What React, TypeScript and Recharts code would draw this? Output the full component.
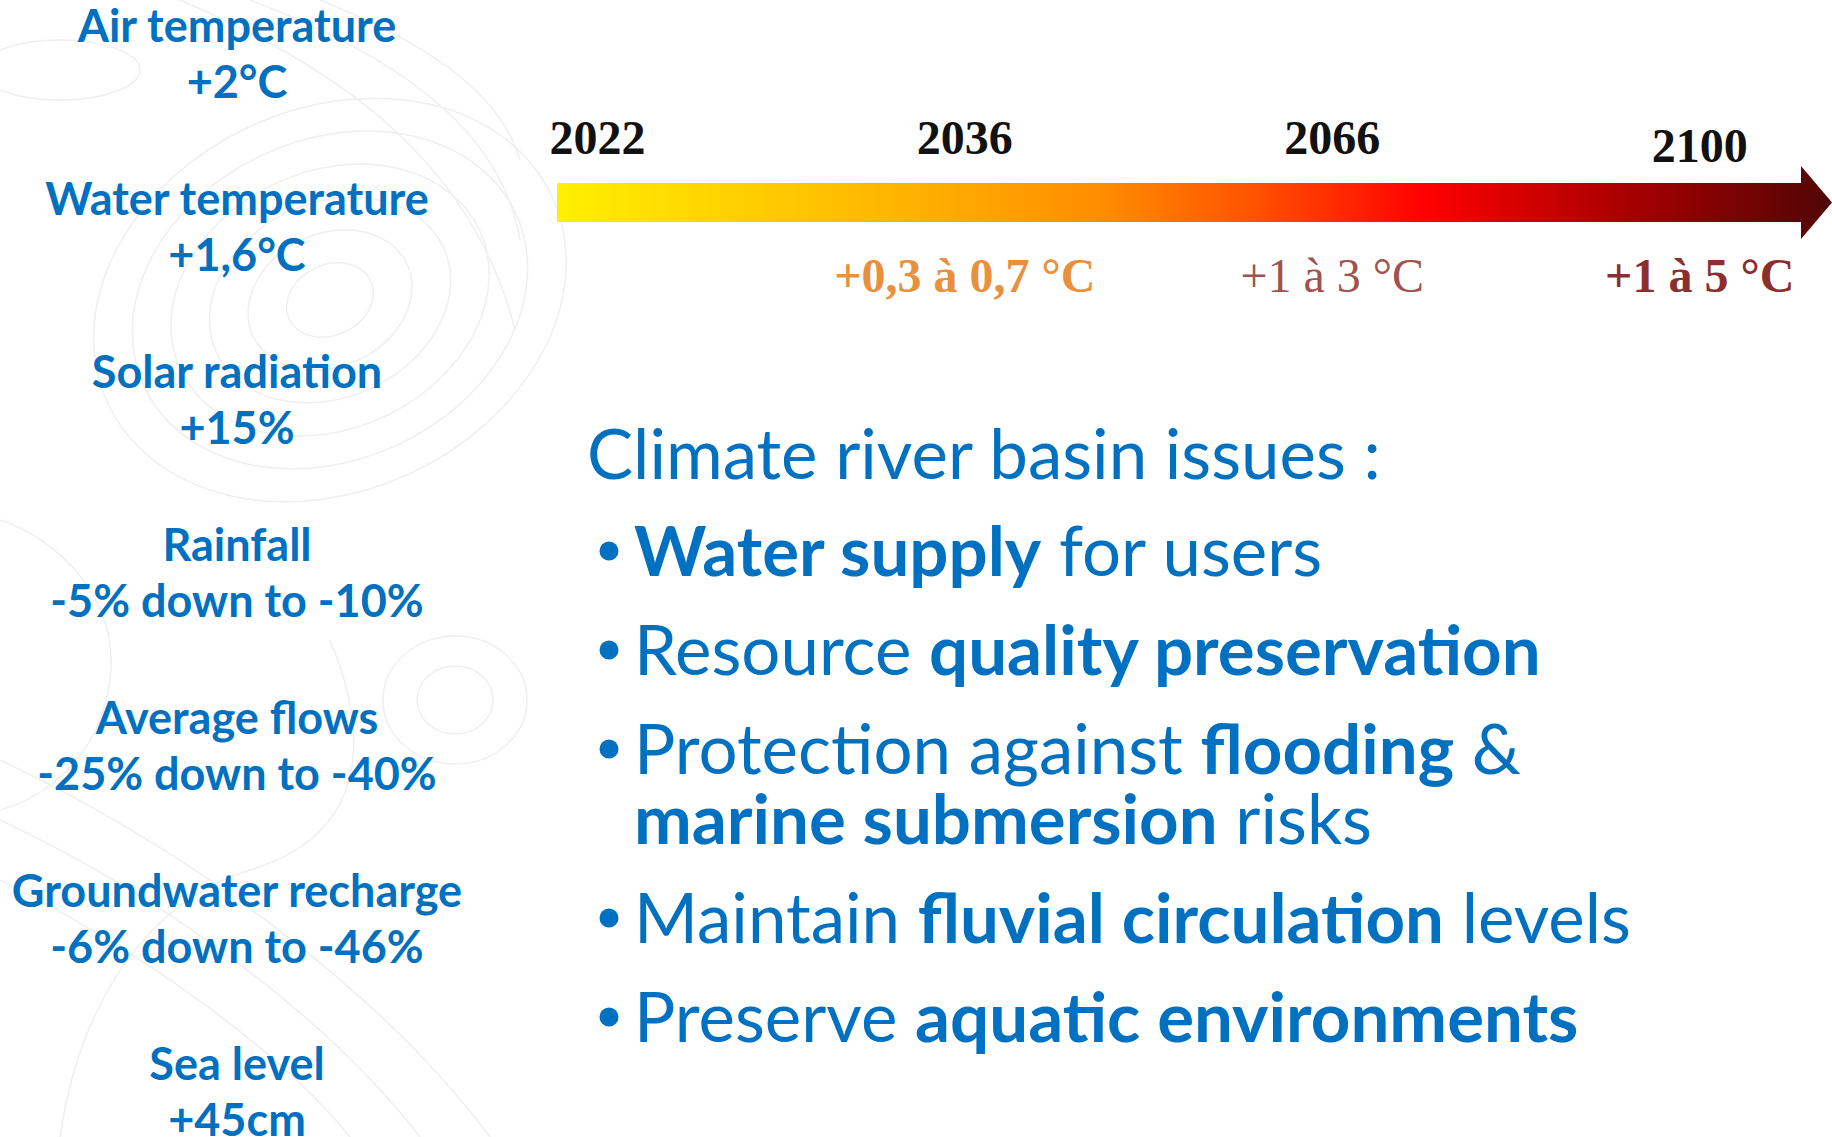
import React from "react";
import { ComposedChart, XAxis, YAxis, ReferenceArea } from "recharts";

// timeline milestones
const years = [2022, 2036, 2066, 2100];
const warming = ["", "+0,3 à 0,7 °C", "+1 à 3 °C", "+1 à 5 °C"];

// projected changes, left column
const indicatorNames = [
  "Air temperature",
  "Water temperature",
  "Solar radiation",
  "Rainfall",
  "Average flows",
  "Groundwater recharge",
  "Sea level",
];
const indicatorChanges = [
  "+2°C",
  "+1,6°C",
  "+15%",
  "-5% down to -10%",
  "-25% down to -40%",
  "-6% down to -46%",
  "+45cm",
];

// bullet list, [text, bold] segments per line
const issuesTitle = "Climate river basin issues :";
const issues: [string, boolean][][][] = [
  [[["Water supply", true], [" for users", false]]],
  [[["Resource ", false], ["quality preservation", true]]],
  [
    [["Protection against ", false], ["flooding", true], [" &", false]],
    [["marine submersion", true], [" risks", false]],
  ],
  [[["Maintain ", false], ["fluvial circulation", true], [" levels", false]]],
  [[["Preserve ", false], ["aquatic environments", true]]],
];

const BLUE = "#0070C0";
const SANS = "Lato, 'Open Sans', sans-serif";
const SERIF = "'Liberation Serif', 'Times New Roman', serif";
const warmingColors = ["#E8903C", "#E8903C", "#A0524F", "#8B2E2E"];
const warmingWeights = [700, 700, 400, 700];
const yearShift = [0, 0, 0, 8];

const timeline = years.map((year, i) => ({ step: i, year, warming: warming[i] }));
const indicators = indicatorNames.map((name, i) => ({ name, change: indicatorChanges[i] }));

function IndicatorTick(props: any) {
  const { x, y, index } = props;
  return (
    <g>
      <text x={x} y={y - 12} textAnchor="middle" fontFamily={SANS} fontWeight={700} fontSize={45} fill={BLUE}>
        {indicatorNames[index]}
      </text>
      <text x={x} y={y + 44} textAnchor="middle" fontFamily={SANS} fontWeight={700} fontSize={45} fill={BLUE}>
        {indicatorChanges[index]}
      </text>
    </g>
  );
}

function YearTick(props: any) {
  const { x, y, index } = props;
  return (
    <text x={x} y={y + yearShift[index]} textAnchor="middle" fontFamily={SERIF} fontWeight={700} fontSize={48} fill="#111">
      {String(years[index])}
    </text>
  );
}

function WarmingTick(props: any) {
  const { x, y, index } = props;
  return (
    <text
      x={x}
      y={y}
      textAnchor="middle"
      fontFamily={SERIF}
      fontWeight={warmingWeights[index]}
      fontSize={48}
      fill={warmingColors[index]}
    >
      {warming[index]}
    </text>
  );
}

function HeatArrow(props: any) {
  const { x, y, width, height } = props;
  const head = 31;
  const flare = 17;
  const xe = x + width;
  const xb = xe - head;
  const ym = y + height / 2;
  const d = `M${x},${y} L${xb},${y} L${xb},${y - flare} L${xe},${ym} L${xb},${y + height + flare} L${xb},${y + height} L${x},${y + height} Z`;
  return (
    <g>
      <defs>
        <linearGradient id="heat" x1="0" y1="0" x2="1" y2="0">
          <stop offset="0" stopColor="#FFF000" />
          <stop offset="0.27" stopColor="#FFB400" />
          <stop offset="0.43" stopColor="#FF8C00" />
          <stop offset="0.55" stopColor="#FF5000" />
          <stop offset="0.68" stopColor="#FF0000" />
          <stop offset="0.84" stopColor="#A80000" />
          <stop offset="1" stopColor="#500505" />
        </linearGradient>
      </defs>
      <path d={d} fill="url(#heat)" />
    </g>
  );
}

function TimelineChart() {
  const domain: [number, number] = [-0.11, 3.36];
  return (
    <ComposedChart width={1832} height={330} data={timeline} margin={{ top: 153, right: 0, bottom: 78, left: 557 }}>
      <XAxis
        xAxisId="year"
        orientation="top"
        type="number"
        dataKey="step"
        domain={domain}
        allowDataOverflow
        ticks={timeline.map((d) => d.step)}
        interval={0}
        height={30}
        tickSize={0}
        tickMargin={29}
        axisLine={false}
        tick={(p: any) => <YearTick {...p} />}
      />
      <XAxis
        xAxisId="warming"
        orientation="bottom"
        type="number"
        dataKey="step"
        domain={domain}
        allowDataOverflow
        ticks={timeline.map((d) => d.step)}
        interval={0}
        height={30}
        tickSize={0}
        tickMargin={70}
        axisLine={false}
        tick={(p: any) => <WarmingTick {...p} />}
      />
      <YAxis yAxisId="band" type="number" domain={[0, 1]} allowDataOverflow hide />
      <ReferenceArea
        xAxisId="year"
        yAxisId="band"
        x1={domain[0]}
        x2={domain[1]}
        y1={0}
        y2={1}
        ifOverflow="visible"
        shape={(p: any) => <HeatArrow {...p} />}
      />
    </ComposedChart>
  );
}

function IndicatorChart() {
  return (
    <ComposedChart layout="vertical" width={520} height={1137} data={indicators} margin={{ top: 54, right: 0, bottom: 45, left: 0 }}>
      <XAxis type="number" hide />
      <YAxis
        type="category"
        dataKey="name"
        scale="point"
        width={474}
        interval={0}
        tickSize={0}
        tickMargin={237}
        axisLine={false}
        tick={(p: any) => <IndicatorTick {...p} />}
      />
    </ComposedChart>
  );
}

function IssueList() {
  let baseline = 576;
  const blocks = issues.map((lines, i) => {
    const top = baseline;
    baseline += 99 + (lines.length - 1) * 70;
    return (
      <g key={i}>
        <circle cx={609} cy={top - 25} r={9.5} fill={BLUE} />
        {lines.map((segs, j) => (
          <text key={j} x={634} y={top + j * 70} fontFamily={SANS} fontSize={69} fill={BLUE}>
            {segs.map(([t, b], k) => (
              <tspan key={k} fontWeight={b ? 700 : 400}>
                {t}
              </tspan>
            ))}
          </text>
        ))}
      </g>
    );
  });
  return (
    <svg width={1832} height={1137} style={{ position: "absolute", left: 0, top: 0 }}>
      <text x={587} y={479} fontFamily={SANS} fontSize={69} fill={BLUE}>
        {issuesTitle}
      </text>
      {blocks}
    </svg>
  );
}

function Contours() {
  const rings = [45, 85, 125, 165, 205, 245];
  return (
    <svg width={1832} height={1137} style={{ position: "absolute", left: 0, top: 0 }}>
      <g fill="none" stroke="#efefef" strokeWidth={1.5}>
        {rings.map((r) => (
          <ellipse key={r} cx={330} cy={300} rx={r} ry={r * 0.78} transform="rotate(-25 330 300)" />
        ))}
        <ellipse cx={455} cy={700} rx={38} ry={34} />
        <ellipse cx={455} cy={700} rx={72} ry={64} />
        <ellipse cx={60} cy={70} rx={80} ry={30} />
        <path d="M180 0 C320 60 470 150 515 330" />
        <path d="M250 0 C380 50 500 120 520 240" />
        <path d="M320 0 C420 40 500 90 520 160" />
        <path d="M0 880 C140 950 280 1050 350 1137" />
        <path d="M0 820 C170 900 330 1020 420 1137" />
        <path d="M0 760 C190 850 380 990 490 1137" />
        <path d="M60 1137 C80 1000 150 900 250 870 C350 840 380 760 330 640" />
        <path d="M0 520 C60 540 120 600 110 680 C100 760 40 800 0 810" />
      </g>
    </svg>
  );
}

export default function App() {
  return (
    <div style={{ position: "absolute", left: 0, top: 0, width: 1832, height: 1137, background: "#ffffff", overflow: "hidden" }}>
      <Contours />
      <div style={{ position: "absolute", left: 0, top: 0 }}>
        <IndicatorChart />
      </div>
      <div style={{ position: "absolute", left: 0, top: 0 }}>
        <TimelineChart />
      </div>
      <IssueList />
    </div>
  );
}
